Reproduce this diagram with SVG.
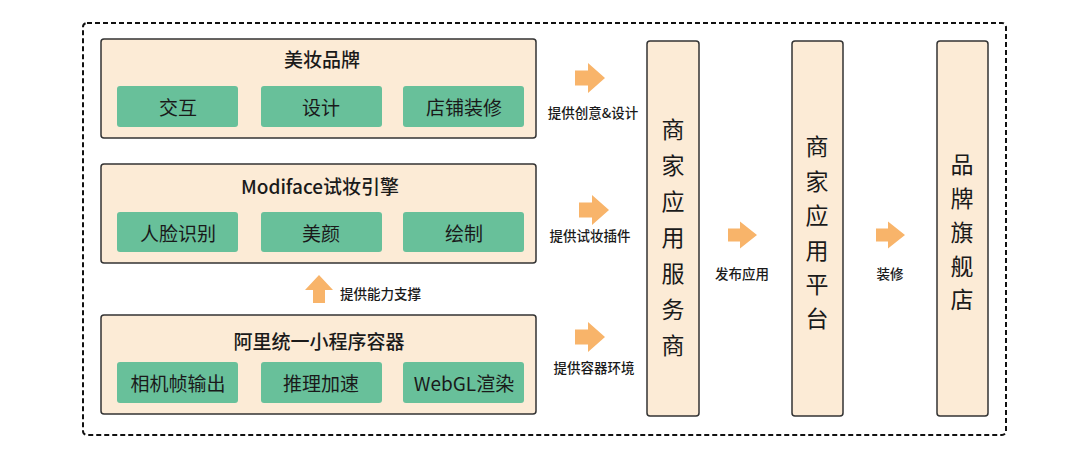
<svg xmlns="http://www.w3.org/2000/svg" width="1080" height="457" viewBox="0 0 1080 457">
<style>
.frame{fill:none;stroke:#111;stroke-width:2;stroke-dasharray:5 3}
.box{fill:#fcebd6;stroke:#333;stroke-width:1.5}
.cell{fill:#68c09a}
.t{font-family:"Noto Sans CJK SC","Noto Sans",sans-serif;fill:#1a1a1a;text-anchor:middle;dominant-baseline:central}
.title{font-size:19px;font-weight:500}
.ct{font-size:19px;font-weight:400}
.vt{font-size:23px;font-weight:400}
.lbl{font-size:13.5px;font-weight:500}
.arr{fill:#f8b46a}
</style>
<rect class="frame" x="83" y="23" width="923" height="412" rx="4"/>
<g id="beauty-brand">
<rect class="box" x="101" y="39" width="435" height="99" rx="3"/>
<text class="t title" x="322" y="58">美妆品牌</text>
<rect class="cell" x="117" y="86" width="121" height="41" rx="3"/>
<text class="t ct" x="178" y="106">交互</text>
<rect class="cell" x="261" y="86" width="121" height="41" rx="3"/>
<text class="t ct" x="321" y="106">设计</text>
<rect class="cell" x="403" y="86" width="121" height="41" rx="3"/>
<text class="t ct" x="464" y="106">店铺装修</text>
</g>
<g id="modiface">
<rect class="box" x="101" y="164" width="435" height="99" rx="3"/>
<text class="t title" x="320" y="185">Modiface试妆引擎</text>
<rect class="cell" x="117" y="212" width="121" height="40" rx="3"/>
<text class="t ct" x="178" y="232">人脸识别</text>
<rect class="cell" x="261" y="212" width="121" height="40" rx="3"/>
<text class="t ct" x="321" y="232">美颜</text>
<rect class="cell" x="403" y="212" width="121" height="40" rx="3"/>
<text class="t ct" x="464" y="232">绘制</text>
</g>
<g id="container">
<rect class="box" x="101" y="315" width="435" height="99" rx="3"/>
<text class="t title" x="319" y="340">阿里统一小程序容器</text>
<rect class="cell" x="117" y="362" width="121" height="41" rx="3"/>
<text class="t ct" x="178" y="382">相机帧输出</text>
<rect class="cell" x="261" y="362" width="121" height="41" rx="3"/>
<text class="t ct" x="321" y="382">推理加速</text>
<rect class="cell" x="403" y="362" width="121" height="41" rx="3"/>
<text class="t ct" x="464" y="382">WebGL渲染</text>
</g>
<g id="service-provider">
<rect class="box" x="647" y="41" width="52" height="375" rx="3"/>
<text class="t vt" x="673" y="128">商</text>
<text class="t vt" x="673" y="164">家</text>
<text class="t vt" x="673" y="200">应</text>
<text class="t vt" x="673" y="236">用</text>
<text class="t vt" x="673" y="272">服</text>
<text class="t vt" x="673" y="308">务</text>
<text class="t vt" x="673" y="344">商</text>
</g>
<g id="platform">
<rect class="box" x="792" y="41" width="51" height="375" rx="3"/>
<text class="t vt" x="817" y="145">商</text>
<text class="t vt" x="817" y="179.5">家</text>
<text class="t vt" x="817" y="214">应</text>
<text class="t vt" x="817" y="248.5">用</text>
<text class="t vt" x="817" y="283">平</text>
<text class="t vt" x="817" y="317">台</text>
</g>
<g id="flagship">
<rect class="box" x="937" y="41" width="51" height="375" rx="3"/>
<text class="t vt" x="962" y="163">品</text>
<text class="t vt" x="962" y="197">牌</text>
<text class="t vt" x="962" y="231">旗</text>
<text class="t vt" x="962" y="264.5">舰</text>
<text class="t vt" x="962" y="298">店</text>
</g>
<g id="connectors">
<path class="arr" d="M575,70.5 h13 v-7.5 l17,15 l-17,15 v-7.5 h-13 z"/>
<text class="t lbl" x="593" y="112">提供创意&amp;设计</text>
<path class="arr" d="M579,202.5 h13 v-7.5 l17,15 l-17,15 v-7.5 h-13 z"/>
<text class="t lbl" x="590" y="235">提供试妆插件</text>
<path class="arr" d="M575,329.5 h13 v-7.5 l17,15 l-17,15 v-7.5 h-13 z"/>
<text class="t lbl" x="594" y="367">提供容器环境</text>
<path class="arr" d="M728,228.5 h12 v-7 l17,13.5 l-17,13.5 v-7 h-12 z"/>
<text class="t lbl" x="742" y="273">发布应用</text>
<path class="arr" d="M876,228.5 h12 v-7 l17,13.5 l-17,13.5 v-7 h-12 z"/>
<text class="t lbl" x="890" y="273">装修</text>
<path class="arr" d="M313,303 v-13 h-8 l14,-15 l14,15 h-8 v13 z"/>
<text class="t lbl" x="340" y="293" style="text-anchor:start">提供能力支撑</text>
</g>
</svg>
